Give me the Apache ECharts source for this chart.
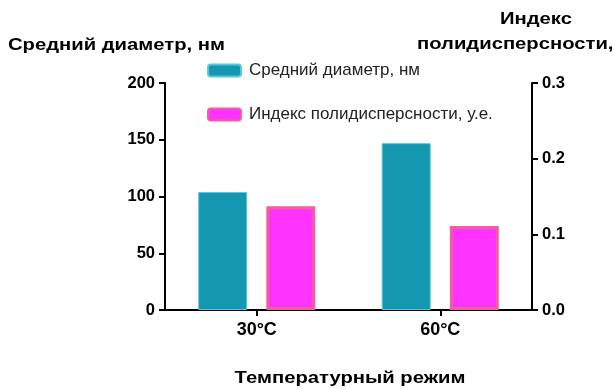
<!DOCTYPE html>
<html>
<head>
<meta charset="utf-8">
<script src="https://cdn.jsdelivr.net/npm/echarts@6/dist/echarts.min.js"></script>
<style>
  html, body { margin: 0; padding: 0; background: #fff; }
  #chart { width: 614px; height: 389px; }
</style>
</head>
<body>
<div id="chart"></div>
<script>
// Temperature regimes and measured particle properties
const categories = ['30°C', '60°C'];
const diameterNm = [104, 147];
const polydispersity = [0.137, 0.111];
const leftTicks = { min: 0, max: 200, interval: 50 };
const rightTicks = { min: 0, max: 0.3, interval: 0.1 };

const FONT = '"Liberation Sans", Arial, sans-serif';
const TITLE_FONT = 'bold 17px ' + FONT;
const TITLE_STRETCH = 1.19;
const axisLine = { show: true, lineStyle: { color: '#000', width: 2 } };
const axisTick = { show: true, length: 6, lineStyle: { color: '#000', width: 2 } };
const valueLabel = { color: '#000', fontFamily: FONT, fontWeight: 'bold', fontSize: 16.5 };

// Bold heading text, slightly widened horizontally
function heading(text, x, y, align) {
  return {
    type: 'text', x: x, y: y, scaleX: TITLE_STRETCH,
    style: { text: text, font: TITLE_FONT, fill: '#000', textAlign: align || 'left' }
  };
}

const chart = echarts.init(document.getElementById('chart'), null, { renderer: 'canvas' });
chart.setOption({
  animation: false,
  backgroundColor: '#fff',
  grid: { left: 165, right: 82, top: 83, bottom: 79, containLabel: false },
  legend: {
    orient: 'vertical',
    left: 207, top: 62, padding: 0,
    itemWidth: 33, itemHeight: 12, itemGap: 27,
    textStyle: { color: '#222', fontFamily: FONT, fontSize: 17, lineHeight: 17, padding: [0, 0, 0, 3] },
    data: ['Средний диаметр, нм', 'Индекс полидисперсности, у.е.']
  },
  xAxis: {
    type: 'category',
    data: categories,
    axisLine: axisLine,
    axisTick: Object.assign({ alignWithLabel: true }, axisTick),
    axisLabel: { color: '#000', fontFamily: FONT, fontWeight: 'bold', fontSize: 18, margin: 11 },
    splitLine: { show: false }
  },
  yAxis: [
    {
      type: 'value', position: 'left',
      min: leftTicks.min, max: leftTicks.max, interval: leftTicks.interval,
      axisLine: axisLine,
      axisTick: axisTick,
      axisLabel: Object.assign({ margin: 10 }, valueLabel),
      splitLine: { show: false }
    },
    {
      type: 'value', position: 'right',
      min: rightTicks.min, max: rightTicks.max, interval: rightTicks.interval,
      axisLine: axisLine,
      axisTick: axisTick,
      axisLabel: Object.assign({ margin: 10, formatter: v => v.toFixed(1) }, valueLabel),
      splitLine: { show: false }
    }
  ],
  series: [
    {
      name: 'Средний диаметр, нм',
      type: 'bar',
      yAxisIndex: 0,
      data: diameterNm,
      barWidth: 49,
      barGap: '39%',
      itemStyle: { color: '#1497b0', borderColor: '#5cc6d6', borderWidth: 1 }
    },
    {
      name: 'Индекс полидисперсности, у.е.',
      type: 'bar',
      yAxisIndex: 1,
      data: polydispersity,
      barWidth: 49,
      barGap: '39%',
      itemStyle: { color: '#ff33ff', borderColor: '#f0609a', borderWidth: 3 }
    }
  ],
  graphic: [
    heading('Средний диаметр, нм', 8, 37),
    heading('Индекс', 536, 11, 'center'),
    heading('полидисперсности,', 417, 36),
    heading('Температурный режим', 350, 370, 'center')
  ]
});
</script>
</body>
</html>
